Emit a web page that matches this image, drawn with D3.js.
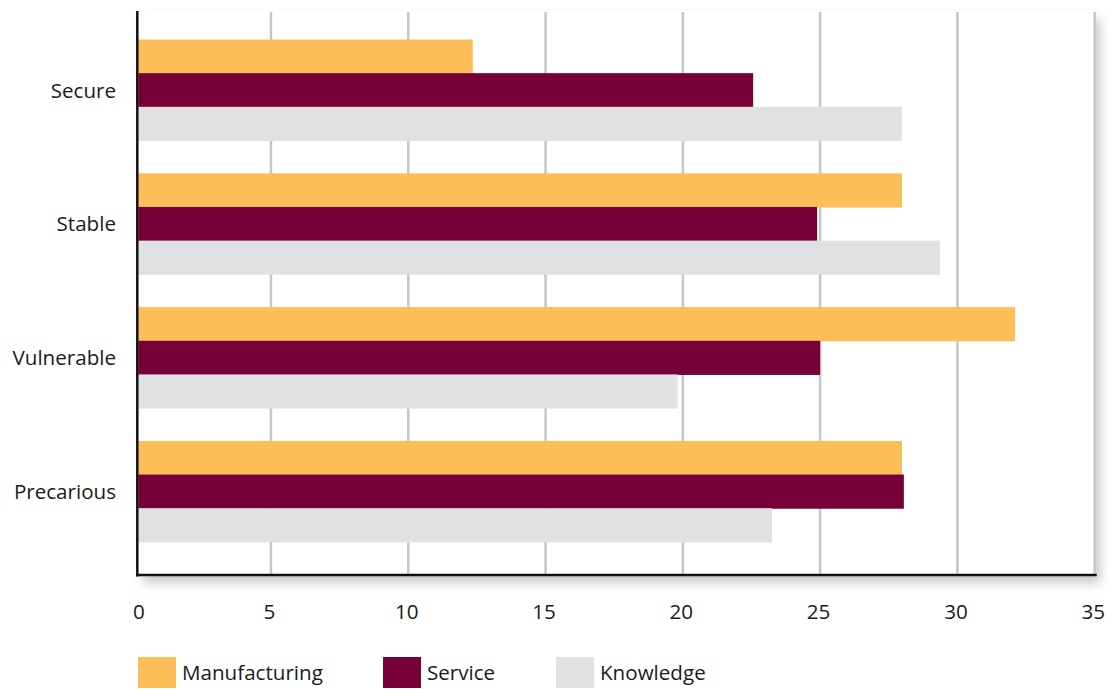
<!DOCTYPE html>
<html><head><meta charset="utf-8">
<script src="https://cdn.jsdelivr.net/npm/d3@7"></script>
<style>
html,body{margin:0;padding:0;background:#fff;}
svg text{font-family:"Open Sans","Noto Sans",sans-serif;fill:#1a1a1a;}
</style></head>
<body>
<svg id="chart" width="1110" height="689"></svg>
<script>
const categories = ["Secure", "Stable", "Vulnerable", "Precarious"];
const seriesNames = ["Manufacturing", "Service", "Knowledge"];
const manufacturing = [12.35, 27.98, 32.1, 27.98];
const service = [22.56, 24.89, 25.0, 28.05];
const knowledge = [27.98, 29.36, 19.81, 23.25];
const xTicks = [0, 5, 10, 15, 20, 25, 30, 35];
const colors = ["#FDBD57", "#780038", "#E0E1E3"];

const values = [manufacturing, service, knowledge];
const svg = d3.select("#chart");
const axisX = 138.3, mRight = 1094.7, mTop = 11, mBottom = 575;
const fs = 20.6;

const x = d3.scaleLinear().domain([0, 35]).range([133.7, mRight]);
const y = d3.scaleBand().domain(categories).range([mTop, 570.4]).paddingInner(0.2451).paddingOuter(0.213);
const y1 = d3.scaleBand().domain(seriesNames).range([0, y.bandwidth()]);

const defs = svg.append("defs");
const f = defs.append("filter").attr("id", "sh").attr("x", "-5%").attr("y", "-5%").attr("width", "115%").attr("height", "120%");
f.append("feDropShadow").attr("dx", 4).attr("dy", 8).attr("stdDeviation", 6).attr("flood-color", "#000").attr("flood-opacity", 0.22);

// plot background with shadow
svg.append("rect").attr("x", axisX).attr("y", mTop).attr("width", mRight - axisX + 1).attr("height", mBottom - mTop)
  .attr("fill", "#fff").attr("filter", "url(#sh)");

// gridlines
svg.append("g").selectAll("line").data(xTicks.filter(d => d > 0)).join("line")
  .attr("x1", d => x(d)).attr("x2", d => x(d)).attr("y1", mTop + 1).attr("y2", mBottom)
  .attr("stroke", "#C6C6CA").attr("stroke-width", 2.5);

// bars
const g = svg.append("g").selectAll("g").data(categories).join("g")
  .attr("transform", d => `translate(0,${y(d)})`);
g.selectAll("rect").data((c, i) => seriesNames.map((s, j) => ({s, v: values[j][i], j}))).join("rect")
  .attr("x", axisX).attr("y", d => y1(d.s)).attr("height", y1.bandwidth() + 0.5)
  .attr("width", d => x(d.v) - axisX).attr("fill", d => colors[d.j]);

// axes lines
svg.append("line").attr("x1", axisX - 1).attr("x2", axisX - 1).attr("y1", mTop).attr("y2", mBottom + 1.5)
  .attr("stroke", "#111").attr("stroke-width", 2.5);
svg.append("line").attr("x1", axisX - 2).attr("x2", mRight + 2).attr("y1", mBottom).attr("y2", mBottom)
  .attr("stroke", "#111").attr("stroke-width", 2.5);

// x tick labels
const xAxis = d3.axisBottom(x).tickValues(xTicks).tickSize(0).tickPadding(0);
const xg = svg.append("g").attr("transform", `translate(0,${mBottom + 44})`).call(xAxis);
xg.select(".domain").remove();
xg.selectAll("text").attr("font-size", fs).attr("dy", "0").attr("fill", "#1a1a1a")
  .attr("x", d => d === 0 ? axisX - x(0) : -2)
  .style("font-family", '"Open Sans","Noto Sans",sans-serif');

// y labels
const yAxis = d3.axisLeft(y).tickSize(0).tickPadding(0);
const yg = svg.append("g").attr("transform", `translate(116,1)`).call(yAxis);
yg.select(".domain").remove();
yg.selectAll("text").attr("font-size", fs).attr("fill", "#1a1a1a")
  .style("font-family", '"Open Sans","Noto Sans",sans-serif');

// legend
const legX = [138, 383, 556];
const lg = svg.append("g").selectAll("g").data(seriesNames).join("g")
  .attr("transform", (d, i) => `translate(${legX[i]},657)`);
lg.append("rect").attr("width", 38).attr("height", 31).attr("fill", (d, i) => colors[i]);
lg.append("text").attr("x", 44).attr("y", 23).attr("font-size", fs).text(d => d);
</script>
</body></html>
